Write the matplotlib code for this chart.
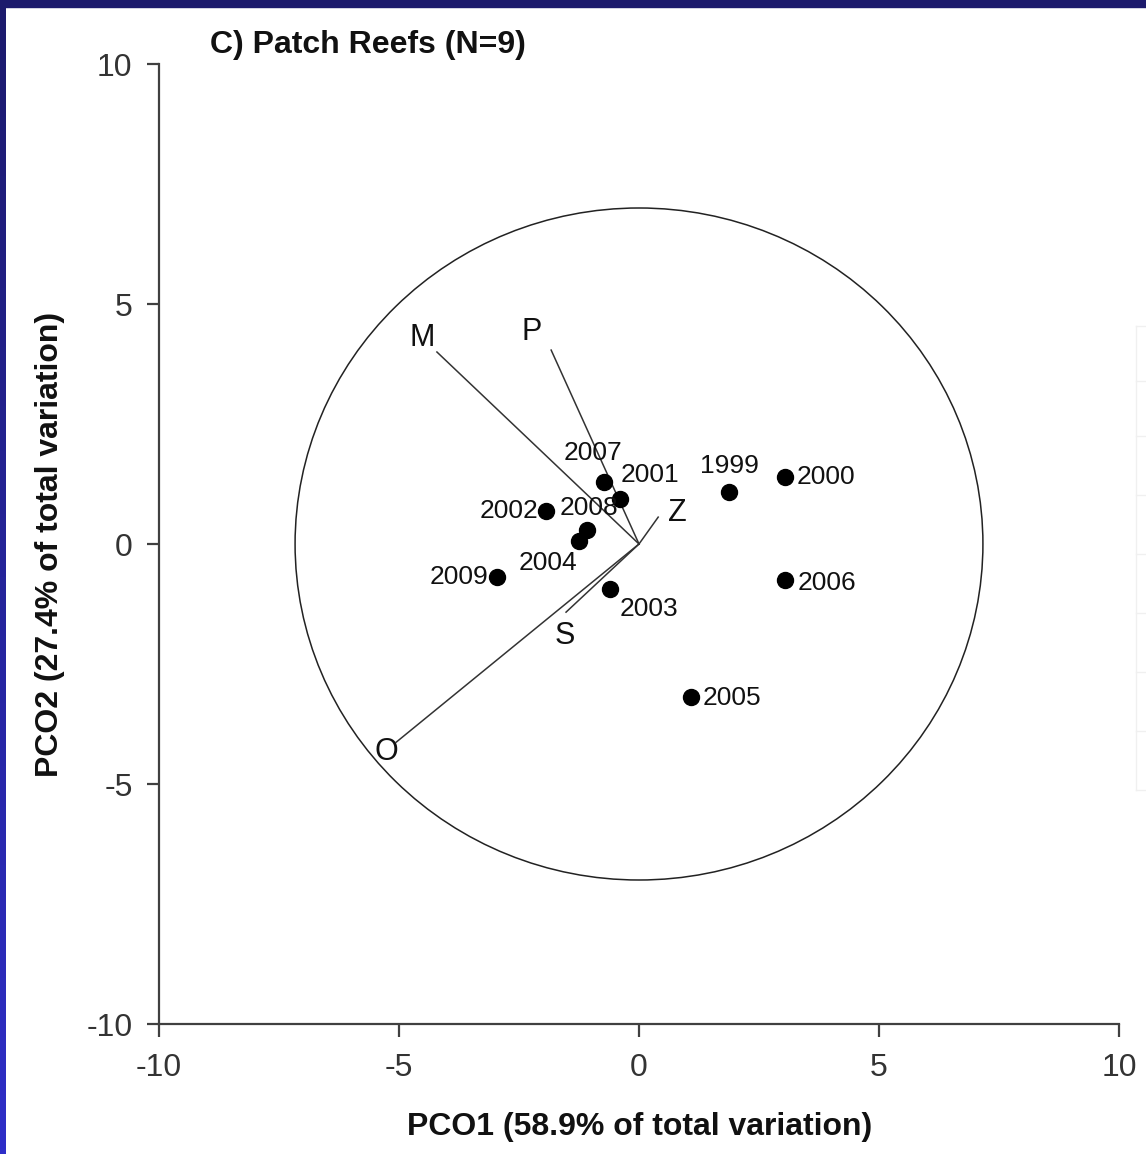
import matplotlib.pyplot as plt
import numpy as np
from matplotlib.patches import Ellipse
from matplotlib.colors import LinearSegmentedColormap

plt.rcParams['font.family'] = ['Liberation Sans', 'DejaVu Sans']
plt.rcParams['axes.unicode_minus'] = False

# sample years and their PCO scores
years = ['1999', '2000', '2001', '2002', '2003', '2004', '2005', '2006', '2007', '2008', '2009']
pco1 = [1.88, 3.04, -0.40, -1.94, -0.60, -1.25, 1.08, 3.04, -0.73, -1.08, -2.96]
pco2 = [1.08, 1.40, 0.94, 0.69, -0.94, 0.06, -3.19, -0.75, 1.29, 0.29, -0.69]

# vector overlay (correlations scaled to circle)
vec_names = ['M', 'P', 'Z', 'S', 'O']
vec_x = [-4.21, -1.83, 0.40, -1.52, -5.06]
vec_y = [4.00, 4.04, 0.56, -1.42, -4.13]

# label offsets in pixels
year_off = {
    '1999': (0, 26, 'center'), '2000': (12, 0, 'left'), '2001': (1, 24, 'left'),
    '2002': (-8, 0, 'right'), '2003': (9, -20, 'left'), '2004': (-2, -22, 'right'),
    '2005': (12, -1, 'left'), '2006': (13, -3, 'left'), '2007': (-11, 29, 'center'),
    '2008': (2, 22, 'center'), '2009': (-9, 0, 'right'),
}
vec_off = {'M': (-15, 14), 'P': (-20, 18), 'Z': (19, 4), 'S': (-1, -24), 'O': (-10, -10)}

W, H = 1146, 1154
fig = plt.figure(figsize=(W / 100, H / 100), dpi=100)

# presentation-slide frame
bg = fig.add_axes([0, 0, 1, 1])
bg.set_axis_off()
bg.set_xlim(0, W)
bg.set_ylim(H, 0)
grad = np.linspace(0, 1, 256).reshape(-1, 1)
cm = LinearSegmentedColormap.from_list('b', ['#1c1a6c', '#2e2ec8'])
bg.imshow(grad, cmap=cm, extent=[0, 6, H, 0], aspect='auto')
bg.fill_between([0, W], 0, 7, color='#1c1a6c')
# faint gridlines of neighbouring chart on the right edge
gy = [326, 381, 436, 495, 554, 613, 672, 731, 790]
bg.plot([1136, 1136], [326, 790], color='#f0f0f0', lw=1)
for g in gy:
    bg.plot([1136, W], [g, g], color='#f0f0f0', lw=1)

ax = fig.add_axes([159 / W, (H - 1024) / H, 960 / W, 960 / H])
ax.set_xlim(-10, 10)
ax.set_ylim(-10, 10)
for s in ['top', 'right']:
    ax.spines[s].set_visible(False)
for s in ['left', 'bottom']:
    ax.spines[s].set_color('#404040')
    ax.spines[s].set_linewidth(1.6)
ax.set_xticks([-10, -5, 0, 5, 10])
ax.set_yticks([-10, -5, 0, 5, 10])
ax.tick_params(direction='out', length=9, width=1.6, color='#404040',
               labelsize=23, labelcolor='#333333')
ax.tick_params(axis='x', pad=12)
ax.tick_params(axis='y', pad=10)

ax.add_patch(Ellipse((0, 0), 14.33, 14.0, fill=False, ec='#222222', lw=1.1))

for n, vx, vy in zip(vec_names, vec_x, vec_y):
    ax.plot([0, vx], [0, vy], color='#333333', lw=1.1)
    dx, dy = vec_off[n]
    ax.annotate(n, (vx, vy), xytext=(dx, dy), textcoords='offset pixels',
                ha='center', va='center', fontsize=22, color='#111111')

ax.plot(pco1, pco2, 'o', color='black', ms=11.5, zorder=3)
for yr, px, py in zip(years, pco1, pco2):
    dx, dy, ha = year_off[yr]
    ax.annotate(yr, (px, py), xytext=(dx, dy), textcoords='offset pixels',
                ha=ha, va='center', fontsize=19, color='#111111')

fig.text(210 / W, 1 - 45 / H, 'C) Patch Reefs (N=9)', fontsize=23, fontweight='bold',
         ha='left', va='center', color='#111111')
fig.text(640 / W, 1 - 1127 / H, 'PCO1 (58.9% of total variation)', fontsize=23,
         fontweight='bold', ha='center', va='center', color='#111111')
fig.text(50 / W, 1 - 544 / H, 'PCO2 (27.4% of total variation)', fontsize=23,
         fontweight='bold', ha='center', va='center', rotation=90, color='#111111')

fig.savefig('out.png', dpi=100)
